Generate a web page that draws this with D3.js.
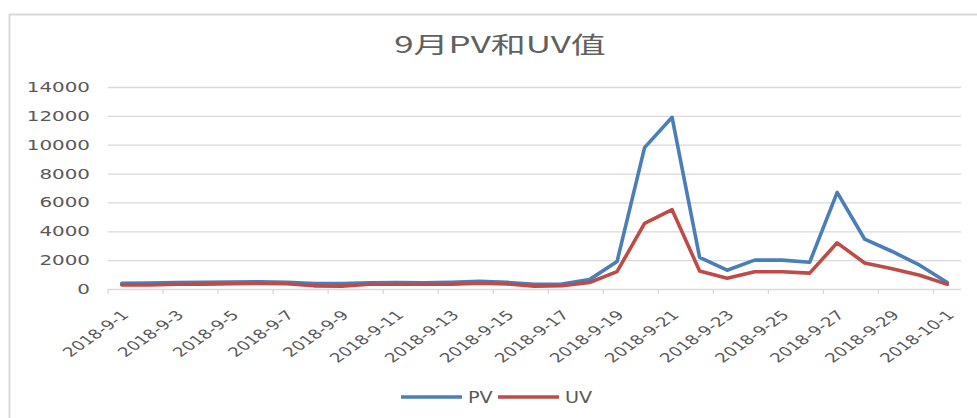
<!DOCTYPE html>
<html>
<head>
<meta charset="utf-8">
<title>9月PV和UV值</title>
<script src="https://cdn.jsdelivr.net/npm/d3@7/dist/d3.min.js"></script>
<style>
  body { margin: 0; background: #fff; }
  svg { display: block; }
</style>
</head>
<body>
<svg width="977" height="418"></svg>

<script>

// data
const dates = ['2018-9-1', '2018-9-2', '2018-9-3', '2018-9-4', '2018-9-5', '2018-9-6', '2018-9-7', '2018-9-8',
               '2018-9-9', '2018-9-10', '2018-9-11', '2018-9-12', '2018-9-13', '2018-9-14', '2018-9-15', '2018-9-16',
               '2018-9-17', '2018-9-18', '2018-9-19', '2018-9-20', '2018-9-21', '2018-9-22', '2018-9-23', '2018-9-24',
               '2018-9-25', '2018-9-26', '2018-9-27', '2018-9-28', '2018-9-29', '2018-9-30', '2018-10-1'];
const pvValues = [400, 420, 450, 460, 480, 500, 470, 380, 370, 430, 440, 430, 470, 530, 460, 320,
                  350, 650, 1900, 9800, 11900, 2200, 1300, 2000, 2000, 1850, 6700, 3450, 2600, 1650, 450];
const uvValues = [280, 280, 330, 340, 370, 380, 360, 220, 200, 330, 330, 330, 340, 400, 350, 200,
                  230, 450, 1200, 4550, 5500, 1250, 740, 1200, 1200, 1100, 3200, 1800, 1400, 950, 320];
const yTicks = [0, 2000, 4000, 6000, 8000, 10000, 12000, 14000];
const seriesNames = ['PV', 'UV'];
const seriesColors = ['#4a7ebb', '#be4b48'];

const svg = d3.select('svg');
const textColor = '#595959';
const gridColor = '#d9d9d9';
const stretch = 1.42;   // the picture's text is drawn wide

const plotLeft = 108, plotRight = 961, plotTop = 87, plotBottom = 289;

const x = d3.scaleBand()
    .domain(dates)
    .range([plotLeft, plotRight]);

const y = d3.scaleLinear()
    .domain([0, 14000])
    .range([plotBottom, plotTop]);

const cx = d => x(d) + x.bandwidth() / 2;

// chart area border
svg.append('rect')
    .attr('x', 9.5).attr('y', 14.5)
    .attr('width', 1100).attr('height', 600)
    .attr('fill', 'none')
    .attr('stroke', gridColor)
    .attr('stroke-width', 2);

// title
svg.append('text')
    .attr('transform', `translate(500,53) scale(1.52,1)`)
    .attr('text-anchor', 'middle')
    .attr('font-family', '"Noto Sans CJK SC", "Noto Sans", sans-serif')
    .attr('font-size', 23)
    .attr('fill', '#606060')
    .text('9月PV和UV值');

// gridlines
const grid = svg.append('g')
    .attr('transform', `translate(${plotLeft},0)`)
    .call(d3.axisLeft(y).tickValues(yTicks.slice(1)).tickSize(-(plotRight - plotLeft)).tickFormat(''));
grid.select('.domain').remove();
grid.selectAll('line').attr('stroke', gridColor).attr('stroke-width', 1.3);

// y labels
svg.append('g')
    .selectAll('text').data(yTicks)
    .join('text')
        .attr('transform', d => `translate(90,${y(d) + 5}) scale(${stretch},1)`)
        .attr('text-anchor', 'end')
        .attr('font-family', '"DejaVu Sans", sans-serif')
        .attr('font-size', 14)
        .attr('fill', textColor)
        .text(d => d);

// x axis
const tickDates = dates.filter((d, i) => i % 2 === 0);
const xAxis = svg.append('g');
xAxis.append('line')
    .attr('x1', plotLeft).attr('x2', plotRight)
    .attr('y1', plotBottom + 0.5).attr('y2', plotBottom + 0.5)
    .attr('stroke', gridColor).attr('stroke-width', 1.3);
xAxis.selectAll('.tick-mark').data(tickDates)
    .join('line')
        .attr('class', 'tick-mark')
        .attr('x1', d => x(d)).attr('x2', d => x(d))
        .attr('y1', plotBottom).attr('y2', plotBottom + 5)
        .attr('stroke', gridColor).attr('stroke-width', 1.3);
xAxis.selectAll('.x-label').data(tickDates)
    .join('text')
        .attr('class', 'x-label')
        .attr('transform', d => `translate(${cx(d) + 8},316) scale(${stretch},1) rotate(-45)`)
        .attr('text-anchor', 'end')
        .attr('font-family', '"DejaVu Sans", sans-serif')
        .attr('font-size', 13)
        .attr('fill', textColor)
        .text(d => d);

// lines
const line = d3.line()
    .x((v, i) => cx(dates[i]))
    .y(v => y(v));

[pvValues, uvValues].forEach((values, k) => {
    svg.append('path')
        .datum(values)
        .attr('d', line)
        .attr('fill', 'none')
        .attr('stroke', seriesColors[k])
        .attr('stroke-width', 3.6)
        .attr('stroke-linejoin', 'round')
        .attr('stroke-linecap', 'round');
});

// legend
const legendX = [401, 498];
const legend = svg.append('g')
    .selectAll('g').data(seriesNames)
    .join('g')
        .attr('transform', (d, i) => `translate(${legendX[i]},397)`);
legend.append('line')
    .attr('x1', 0).attr('x2', 61)
    .attr('stroke', (d, i) => seriesColors[i])
    .attr('stroke-width', 3.6);
legend.append('text')
    .attr('transform', `translate(67,6) scale(1.28,1)`)
    .attr('font-family', '"DejaVu Sans", sans-serif')
    .attr('font-size', 15)
    .attr('fill', textColor)
    .text(d => d);

</script>
</body>
</html>
